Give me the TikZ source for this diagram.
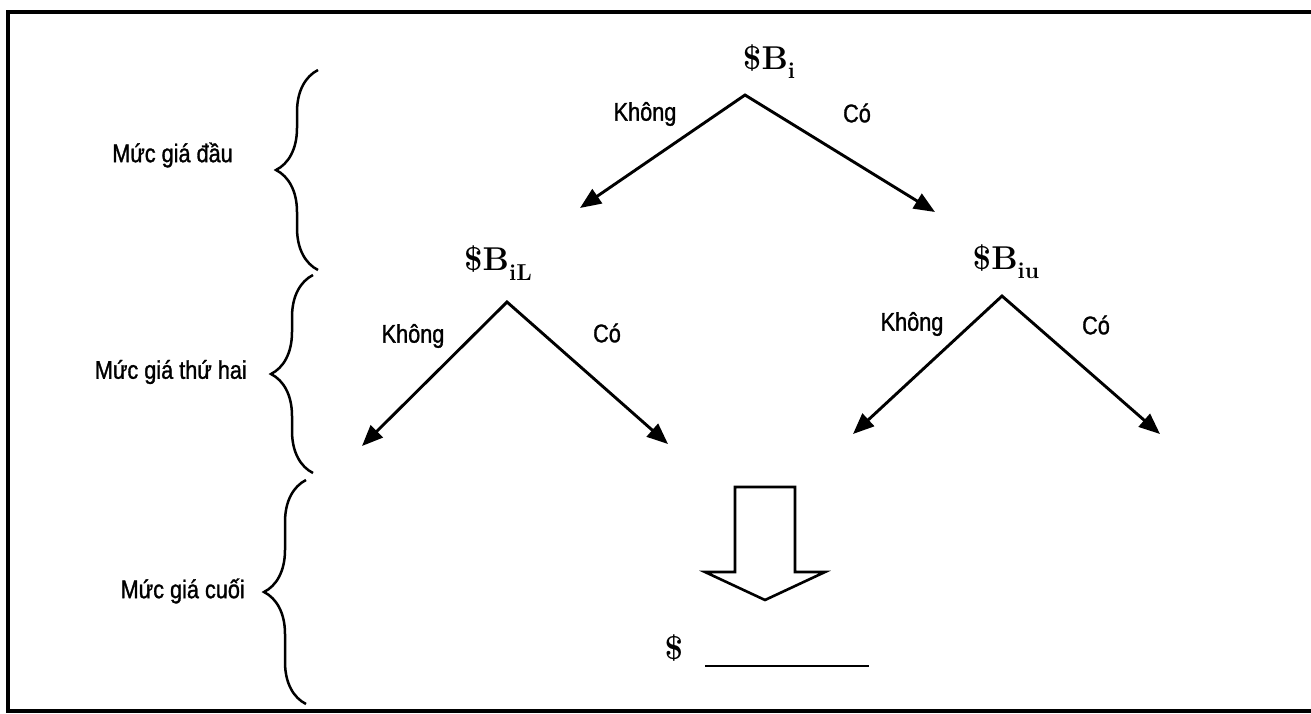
\documentclass[tikz,border=0pt]{standalone}
\usepackage{fontspec}
\newfontfamily\lab[FakeStretch=0.85,FakeBold=1.2]{Liberation Sans}
\usetikzlibrary{arrows.meta,decorations.pathreplacing}
% bold lowered subscript for the bid symbols
\newcommand{\bidsub}[1]{\raisebox{-0.28em}{\fontsize{23}{23}\selectfont\bfseries #1}}
\begin{document}
\begin{tikzpicture}[x=1pt,y=-1pt,
  frame/.style={line width=3.5pt},
  lbl/.style={font=\lab\fontsize{25.5}{30}\selectfont, inner sep=0pt},
  val/.style={font=\bfseries\fontsize{33}{38}\selectfont, inner sep=0pt},
  branch/.style={line width=2.9pt, line join=miter,
    {Triangle[length=21pt,width=17pt]}-{Triangle[length=21pt,width=17pt]}},
  curly/.style={line width=2.5pt, decorate,
    decoration={brace, amplitude=42pt}},
  blockarrow/.style={line width=2.6pt, line join=miter},
]
\useasboundingbox (0,0) rectangle (1311,713);

% open frame
\draw[frame] (1311,12) -- (8,12) -- (8,711) -- (1311,711);

% level labels and braces
\node[lbl, anchor=east] (lev1) at (233,155) {Mức giá đầu};
\node[lbl, anchor=east] (lev2) at (247,372) {Mức giá thứ hai};
\node[lbl, anchor=east] (lev3) at (245,591) {Mức giá cuối};
\draw[curly] (318,270) -- (318,70);
\draw[curly] (313,473) -- (313,275);
\draw[curly] (306,704) -- (306,480);

% first bid
\node[val] (b0) at (769,62) {\$B\bidsub{i}};
\coordinate (a0) at (745,95);
\coordinate (t0l) at (580,208);
\coordinate (t0r) at (935,212);
\draw[branch] (t0l) -- (a0) -- (t0r);
\node[lbl] (k0) at (645,114) {Không};
\node[lbl] (c0) at (857,113) {Có};

% second bid, lower branch
\node[val] (bL) at (498,263) {\$B\bidsub{iL}};
\coordinate (aL) at (507,302);
\coordinate (tLl) at (362,446);
\coordinate (tLr) at (668,444);
\draw[branch] (tLl) -- (aL) -- (tLr);
\node[lbl] (kL) at (413,336) {Không};
\node[lbl] (cL) at (607,333) {Có};

% second bid, upper branch
\node[val] (bR) at (1006,262) {\$B\bidsub{iu}};
\coordinate (aR) at (1002,296);
\coordinate (tRl) at (853,434);
\coordinate (tRr) at (1160,434);
\draw[branch] (tRl) -- (aR) -- (tRr);
\node[lbl] (kR) at (912,324) {Không};
\node[lbl] (cR) at (1096,325) {Có};

% final bid
\draw[blockarrow] (735,487) -- (795,487) -- (795,572) -- (825,572)
  -- (765,600) -- (705,572) -- (735,572) -- cycle;
\node[val] (dol) at (674,648) {\$};
\coordinate (ul1) at (705,666);
\coordinate (ul2) at (869,666);
\draw[line width=2.6pt] (ul1) -- (ul2);
\end{tikzpicture}
\end{document}
